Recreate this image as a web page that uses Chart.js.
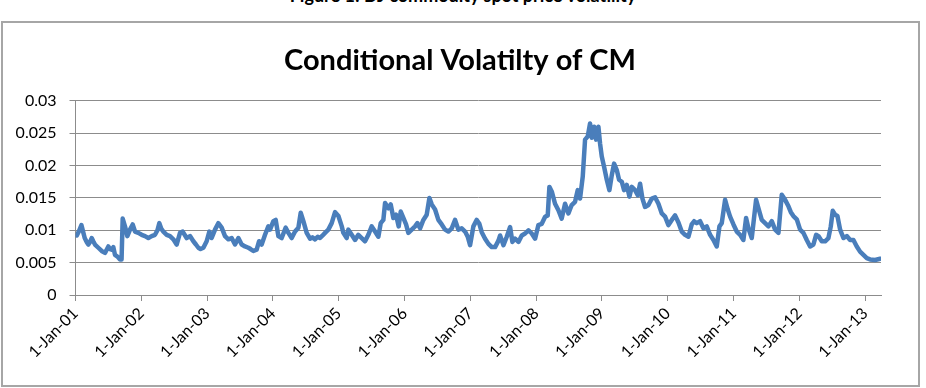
<!DOCTYPE html>
<html>
<head>
<meta charset="utf-8">
<script src="https://cdn.jsdelivr.net/npm/chart.js@4.4.1/dist/chart.umd.min.js"></script>
<style>
  html, body { margin: 0; padding: 0; background: #fff; }
  body { width: 926px; height: 388px; position: relative; overflow: hidden; font-family: Lato, sans-serif; }
  #caption { position: absolute; left: 0; top: -13px; width: 926px; text-align: center; font-weight: bold; font-size: 18px; line-height: 16px; color: #000; }
  #frame { position: absolute; left: 1px; top: 21px; width: 915px; height: 362px; border: 2px solid #a6a6a6; }
  canvas { display: block; }
</style>
</head>
<body>
<div id="caption">Figure 1: DJ commodity spot price volatility</div>
<div id="frame"><canvas id="volChart" width="914" height="360"></canvas></div>
<script>
const chartTitle = 'Conditional Volatilty of CM';

// time as decimal years (2001.5 = mid 2001)
const dateYears = [
  2001.02, 2001.05, 2001.09, 2001.12, 2001.14, 2001.17, 2001.195, 2001.22, 2001.246, 2001.27, 2001.296, 2001.347, 2001.398, 2001.448, 2001.499, 2001.525, 2001.55, 2001.575, 2001.60, 2001.64, 2001.676, 2001.70, 2001.717, 2001.752, 2001.788, 2001.828, 2001.869, 2001.904, 2001.955,
  2002.006, 2002.056, 2002.107, 2002.158, 2002.208, 2002.245, 2002.274, 2002.305, 2002.335, 2002.386, 2002.436, 2002.487, 2002.537, 2002.588, 2002.629, 2002.689, 2002.74, 2002.791, 2002.83, 2002.867, 2002.90, 2002.943, 2002.993,
  2003.034, 2003.069, 2003.12, 2003.17, 2003.221, 2003.272, 2003.323, 2003.373, 2003.424, 2003.475, 2003.525, 2003.576, 2003.627, 2003.66, 2003.703, 2003.753, 2003.789, 2003.829, 2003.88, 2003.93, 2003.956,
  2004.007, 2004.042, 2004.083, 2004.133, 2004.194, 2004.235, 2004.285, 2004.336, 2004.387, 2004.422, 2004.463, 2004.513, 2004.564, 2004.60, 2004.64, 2004.68, 2004.716, 2004.755, 2004.792, 2004.842, 2004.893, 2004.944, 2004.995,
  2005.046, 2005.07, 2005.121, 2005.146, 2005.197, 2005.248, 2005.298, 2005.349, 2005.40, 2005.45, 2005.501, 2005.552, 2005.602, 2005.638, 2005.678, 2005.704, 2005.754, 2005.79, 2005.83, 2005.871, 2005.911, 2005.942, 2005.982,
  2006.023, 2006.058, 2006.109, 2006.16, 2006.195, 2006.236, 2006.286, 2006.337, 2006.378, 2006.413, 2006.464, 2006.514, 2006.565, 2006.616, 2006.666, 2006.717, 2006.768, 2006.818, 2006.869, 2006.92, 2006.96, 2006.996,
  2007.046, 2007.097, 2007.137, 2007.173, 2007.224, 2007.275, 2007.325, 2007.376, 2007.427, 2007.452, 2007.503, 2007.553, 2007.604, 2007.639, 2007.68, 2007.731, 2007.781, 2007.832, 2007.883, 2007.933, 2007.984,
  2008.034, 2008.085, 2008.136, 2008.176, 2008.201, 2008.237, 2008.287, 2008.338, 2008.388, 2008.439, 2008.49, 2008.54, 2008.591, 2008.632, 2008.667, 2008.708, 2008.743, 2008.784, 2008.819, 2008.845, 2008.88, 2008.911, 2008.946, 2008.971, 2008.997,
  2009.032, 2009.073, 2009.113, 2009.149, 2009.184, 2009.225, 2009.26, 2009.301, 2009.336, 2009.377, 2009.417, 2009.453, 2009.503, 2009.544, 2009.579, 2009.615, 2009.655, 2009.706, 2009.757, 2009.807, 2009.858, 2009.909, 2009.959,
  2010.01, 2010.061, 2010.111, 2010.162, 2010.212, 2010.263, 2010.314, 2010.364, 2010.40, 2010.44, 2010.491, 2010.542, 2010.592, 2010.643, 2010.694, 2010.744, 2010.785, 2010.82, 2010.871, 2010.912, 2010.947, 2010.998,
  2011.048, 2011.099, 2011.149, 2011.19, 2011.225, 2011.276, 2011.342, 2011.378, 2011.428, 2011.479, 2011.53, 2011.58, 2011.631, 2011.682, 2011.732, 2011.783, 2011.834, 2011.87, 2011.909, 2011.96,
  2012.011, 2012.061, 2012.112, 2012.163, 2012.213, 2012.254, 2012.289, 2012.34, 2012.391, 2012.441, 2012.477, 2012.507, 2012.543, 2012.578, 2012.619, 2012.669, 2012.72, 2012.771, 2012.821, 2012.872, 2012.922, 2012.973,
  2013.024, 2013.074, 2013.15, 2013.226
];

const volatility = [
  0.0092, 0.0098, 0.0108, 0.0096, 0.0088, 0.0082, 0.0078, 0.0082, 0.0088, 0.0083, 0.0078, 0.0073, 0.0068, 0.0065, 0.0075, 0.0071, 0.0070, 0.0074, 0.0062, 0.0059, 0.0055, 0.0055, 0.0118, 0.0106, 0.0091, 0.0101, 0.0109, 0.0098, 0.0096,
  0.0093, 0.0091, 0.0088, 0.0091, 0.0093, 0.0100, 0.0111, 0.0102, 0.0098, 0.0093, 0.0091, 0.0086, 0.0078, 0.0096, 0.0098, 0.0088, 0.0091, 0.0083, 0.0078, 0.0073, 0.0071, 0.0073, 0.0083,
  0.0098, 0.0088, 0.0101, 0.0111, 0.0104, 0.0091, 0.0086, 0.0088, 0.0078, 0.0088, 0.0078, 0.0075, 0.0073, 0.0071, 0.0068, 0.0070, 0.0083, 0.0078, 0.0093, 0.0106, 0.0101,
  0.0114, 0.0116, 0.0091, 0.0088, 0.0104, 0.0096, 0.0088, 0.0098, 0.0104, 0.0127, 0.0114, 0.0096, 0.0087, 0.0089, 0.0086, 0.0090, 0.0088, 0.0092, 0.0096, 0.0101, 0.0111, 0.0128, 0.0122,
  0.0106, 0.0096, 0.0088, 0.0101, 0.0093, 0.0085, 0.0093, 0.0088, 0.0083, 0.0093, 0.0106, 0.0098, 0.0090, 0.0111, 0.0116, 0.0142, 0.0134, 0.0140, 0.0119, 0.0124, 0.0106, 0.0129, 0.0119,
  0.0109, 0.0096, 0.0101, 0.0106, 0.0111, 0.0103, 0.0116, 0.0124, 0.0150, 0.0140, 0.0132, 0.0116, 0.0109, 0.0101, 0.0098, 0.0103, 0.0116, 0.0101, 0.0103, 0.0098, 0.0090, 0.0077,
  0.0106, 0.0116, 0.0110, 0.0097, 0.0087, 0.0079, 0.0074, 0.0074, 0.0084, 0.0092, 0.0077, 0.0090, 0.0105, 0.0082, 0.0087, 0.0082, 0.0092, 0.0095, 0.0100, 0.0095, 0.0087,
  0.0108, 0.0110, 0.0121, 0.0123, 0.0167, 0.0160, 0.0141, 0.0131, 0.0118, 0.0141, 0.0126, 0.0139, 0.0144, 0.0162, 0.0149, 0.0183, 0.0240, 0.0245, 0.0265, 0.0243, 0.0260, 0.0240, 0.0260, 0.0234, 0.0214,
  0.0198, 0.0178, 0.0162, 0.0185, 0.0203, 0.0193, 0.0178, 0.0175, 0.0162, 0.0170, 0.0152, 0.0167, 0.0162, 0.0154, 0.0172, 0.0149, 0.0136, 0.0139, 0.0149, 0.0151, 0.0141, 0.0126, 0.0121,
  0.0108, 0.0116, 0.0123, 0.0112, 0.0098, 0.0093, 0.0090, 0.0109, 0.0114, 0.0111, 0.0114, 0.0103, 0.0106, 0.0093, 0.0085, 0.0075, 0.0106, 0.0111, 0.0147, 0.0132, 0.0121, 0.0109,
  0.0098, 0.0093, 0.0085, 0.0119, 0.0103, 0.0088, 0.0147, 0.0134, 0.0116, 0.0111, 0.0106, 0.0114, 0.0101, 0.0096, 0.0155, 0.0147, 0.0137, 0.0128, 0.0122, 0.0117,
  0.0101, 0.0096, 0.0085, 0.0075, 0.0078, 0.0093, 0.0091, 0.0083, 0.0083, 0.0088, 0.0106, 0.0130, 0.0124, 0.0122, 0.0101, 0.0088, 0.0091, 0.0085, 0.0085, 0.0075, 0.0067, 0.0062,
  0.0057, 0.0055, 0.0054, 0.0056
];

const tickYears = [2001, 2002, 2003, 2004, 2005, 2006, 2007, 2008, 2009, 2010, 2011, 2012, 2013];
const xTickLabels = ['1-Jan-01', '1-Jan-02', '1-Jan-03', '1-Jan-04', '1-Jan-05', '1-Jan-06', '1-Jan-07',
                     '1-Jan-08', '1-Jan-09', '1-Jan-10', '1-Jan-11', '1-Jan-12', '1-Jan-13'];
const yTickValues = [0, 0.005, 0.01, 0.015, 0.02, 0.025, 0.03];
const yTickLabels = ['0', '0.005', '0.01', '0.015', '0.02', '0.025', '0.03'];

const gridGrey = '#8c8c8c';
const tickFont = { family: 'Lato', size: 16 };

const points = dateYears.map((t, i) => ({ x: t, y: volatility[i] }));

const ctx = document.getElementById('volChart').getContext('2d');
const volChart = new Chart(ctx, {
    type: 'line',
    data: {
        datasets: [{
            data: points,
            borderColor: '#4a7ebb',
            borderWidth: 4.5,
            borderJoinStyle: 'round',
            borderCapStyle: 'round',
            pointRadius: 0,
            tension: 0,
            fill: false
        }]
    },
    options: {
        responsive: false,
        animation: false,
        layout: { padding: 0 },
        plugins: {
            legend: { display: false },
            tooltip: { enabled: false },
            title: {
                display: true,
                text: chartTitle,
                color: '#000',
                font: { family: 'Lato', size: 29, weight: 'bold' },
                padding: { top: 20, bottom: 23 }
            }
        },
        scales: {
            x: {
                type: 'linear',
                min: 2001,
                max: 2013.24,
                afterBuildTicks: scale => { scale.ticks = tickYears.map(v => ({ value: v })); },
                afterFit: scale => { scale.height = 88; },
                ticks: {
                    autoSkip: false,
                    maxRotation: 45,
                    minRotation: 45,
                    padding: 3,
                    color: '#000',
                    font: tickFont,
                    callback: (v, i) => xTickLabels[i]
                },
                grid: { drawOnChartArea: false, drawTicks: true, tickLength: 6, color: gridGrey },
                border: { color: gridGrey, width: 1 }
            },
            y: {
                min: 0,
                max: 0.03,
                afterBuildTicks: scale => { scale.ticks = yTickValues.map(v => ({ value: v })); },
                afterFit: scale => { scale.width = 72.5; },
                ticks: {
                    padding: 13,
                    color: '#000',
                    font: tickFont,
                    callback: (v, i) => yTickLabels[i]
                },
                grid: { color: gridGrey, tickLength: 6, lineWidth: 1 },
                border: { color: gridGrey, width: 1 }
            },
            // empty right-hand strip so the title stays centred on the whole box
            yRight: {
                position: 'right',
                min: 0,
                max: 0.03,
                afterFit: scale => { scale.width = 36; },
                ticks: { display: false },
                grid: { display: false },
                border: { display: false }
            }
        }
    }
});
</script>
</body>
</html>
